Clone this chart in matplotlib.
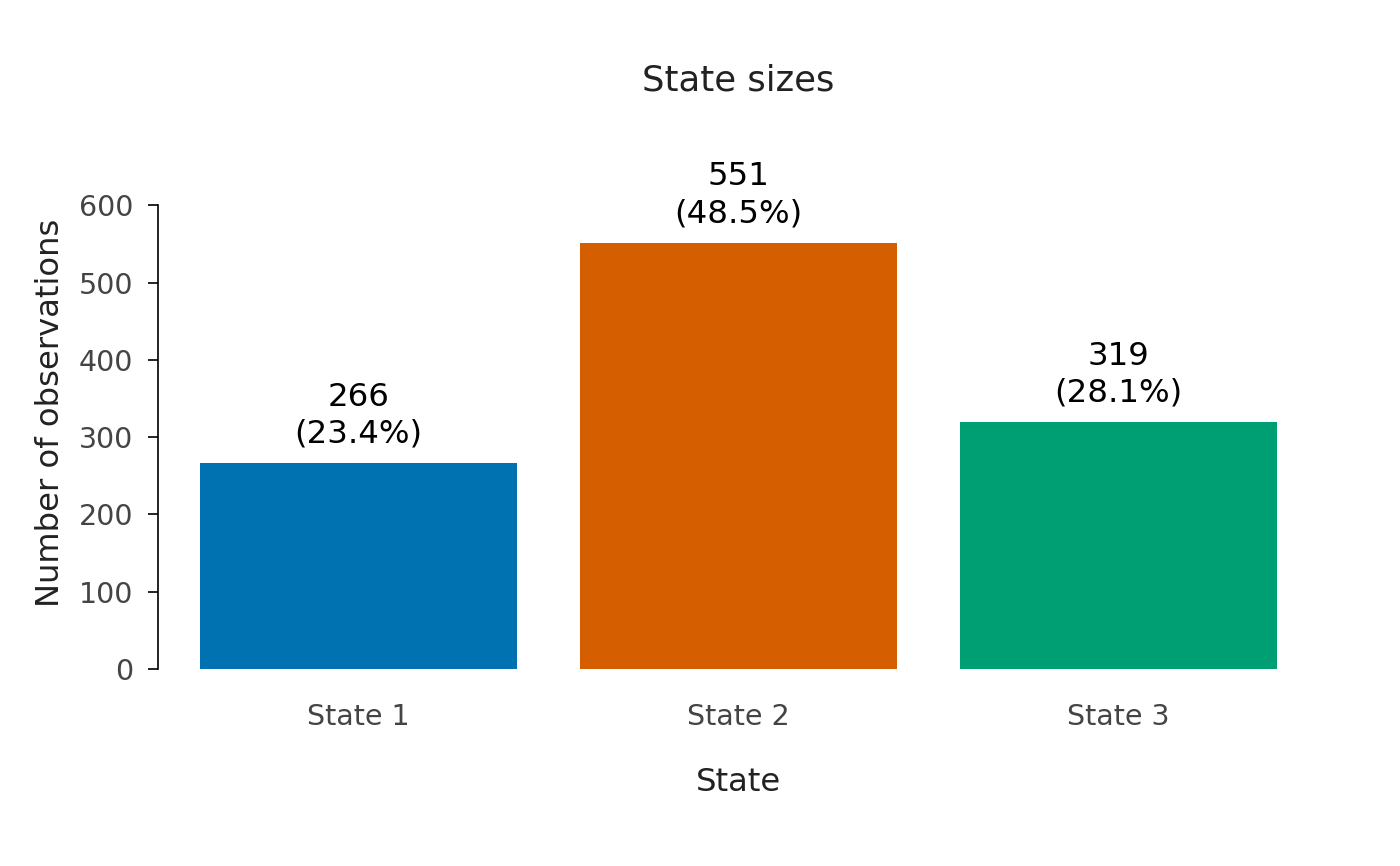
import numpy as np
import matplotlib.pyplot as plt

# data
states = ['State 1', 'State 2', 'State 3']
counts = [266, 551, 319]
percents = [23.4, 48.5, 28.1]
colors = ['#0072B2', '#D55E00', '#009E73']

fig = plt.figure(figsize=(14, 8.66), dpi=100)
ax = fig.add_axes([0.1125, 0.2275, 0.830, 0.5355])

x = np.arange(len(states))
ax.bar(x, counts, width=0.834, color=colors)

for xi, c, p in zip(x, counts, percents):
    ax.annotate(f'{c}\n({p}%)', (xi, c), xytext=(0, 10), textcoords='offset points',
                ha='center', va='bottom', fontsize=23.3, color='black', linespacing=1.25)

ax.set_xlim(-0.53, 2.53)
ax.set_ylim(0, 600)
ax.set_xticks(x)
ax.set_xticklabels(states)
ax.set_yticks([0, 100, 200, 300, 400, 500, 600])

for side in ['top', 'right', 'bottom']:
    ax.spines[side].set_visible(False)
ax.spines['left'].set_linewidth(1.2)
ax.tick_params(axis='x', length=0, labelsize=20.5, labelcolor='#444444', pad=24.5)
ax.tick_params(axis='y', length=7, width=1.2, labelsize=20.5, labelcolor='#444444', pad=10.5)

ax.set_xlabel('State', fontsize=23.2, color='#222222', labelpad=26)
ax.set_ylabel('Number of observations', fontsize=23.2, color='#222222', labelpad=9)
ax.yaxis.label.set_y(0.552)
fig.text(0.527, 0.907, 'State sizes', ha='center', va='center', fontsize=25.5, color='#222222')

fig.savefig('out.png', dpi=100)
